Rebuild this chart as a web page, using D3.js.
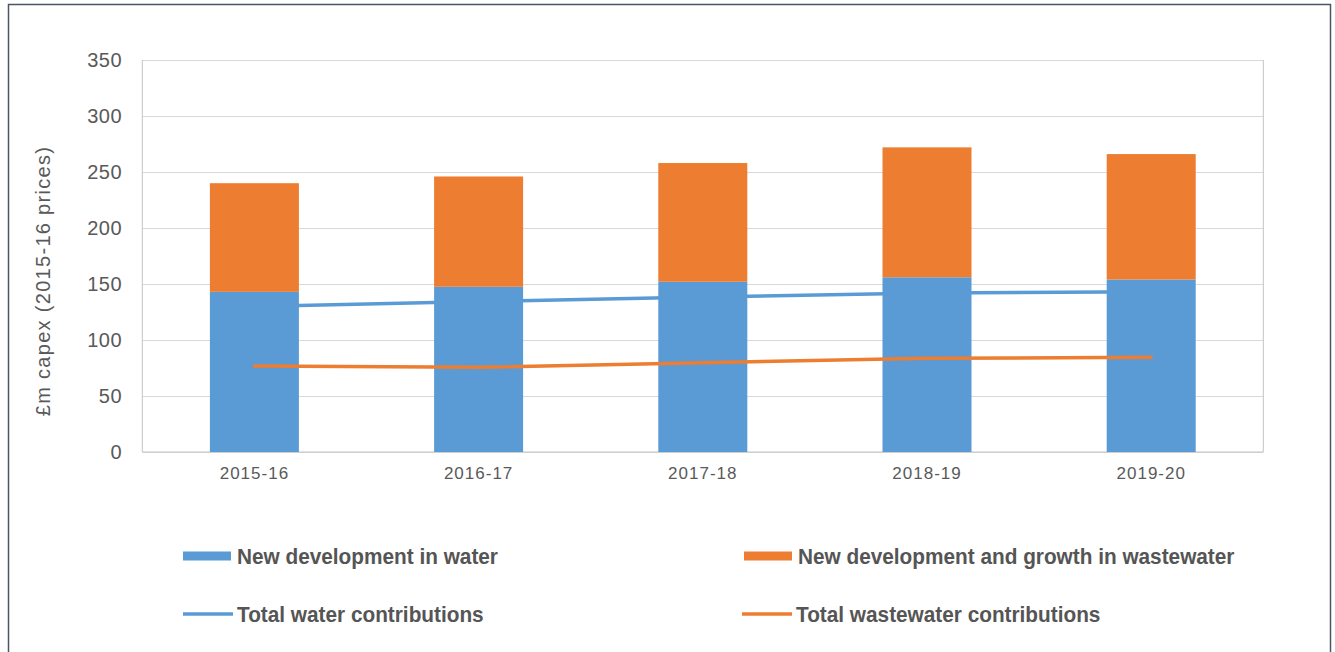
<!DOCTYPE html>
<html>
<head>
<meta charset="utf-8">
<script src="https://cdn.jsdelivr.net/npm/d3@7/dist/d3.min.js"></script>
<style>
  html, body { margin: 0; padding: 0; background: #ffffff; }
  svg { display: block; }
</style>
</head>
<body>
<svg id="chart" width="1335" height="652"></svg>
<script>
// Capex for new development, £m in 2015-16 prices
const years = ["2015-16", "2016-17", "2017-18", "2018-19", "2019-20"];
const waterDev = [143, 147.5, 152, 156, 154];
const wastewaterDev = [97, 98.5, 106, 116, 112];
const totalWater = [130, 134.3, 138.3, 142, 143];
const totalWastewater = [76.8, 75.6, 79.7, 83.6, 84.5];
const yTicks = [0, 50, 100, 150, 200, 250, 300, 350];

const seriesNames = {
  waterDev: "New development in water",
  wastewaterDev: "New development and growth in wastewater",
  totalWater: "Total water contributions",
  totalWastewater: "Total wastewater contributions"
};

const blue = "#5b9bd5";
const orange = "#ed7d31";
const textGrey = "#595959";

const svg = d3.select("#chart");
const plot = { left: 142.3, right: 1263.3, top: 60, bottom: 452 };

// outer frame
svg.append("rect")
  .attr("x", 8.5).attr("y", 4.5)
  .attr("width", 1322).attr("height", 680)
  .attr("fill", "#ffffff")
  .attr("stroke", "#4b5565").attr("stroke-width", 1.5);

const x = d3.scaleBand().domain(years)
  .range([plot.left, plot.right])
  .paddingInner(0.603).paddingOuter(0.3015);

const y = d3.scaleLinear().domain([0, 350]).range([plot.bottom, plot.top]);

// horizontal gridlines
svg.append("g")
  .attr("transform", `translate(${plot.left},0)`)
  .call(d3.axisLeft(y).tickValues(yTicks).tickSize(-(plot.right - plot.left)).tickFormat(""))
  .call(g => g.select(".domain").remove())
  .call(g => g.selectAll("line").attr("stroke", "#d9d9d9").attr("stroke-width", 1));

// plot area sides
svg.append("line").attr("x1", plot.left).attr("x2", plot.left)
  .attr("y1", plot.top).attr("y2", plot.bottom).attr("stroke", "#c4c4c4");
svg.append("line").attr("x1", plot.right).attr("x2", plot.right)
  .attr("y1", plot.top).attr("y2", plot.bottom).attr("stroke", "#c4c4c4");
svg.append("line").attr("x1", plot.left).attr("x2", plot.right)
  .attr("y1", plot.bottom).attr("y2", plot.bottom).attr("stroke", "#c4c4c4");

// y axis labels
svg.append("g")
  .attr("transform", `translate(${plot.left},0)`)
  .call(d3.axisLeft(y).tickValues(yTicks).tickSize(0).tickPadding(20))
  .call(g => g.select(".domain").remove())
  .call(g => g.selectAll("text")
    .attr("fill", textGrey)
    .style("font-family", "'Liberation Sans', Arial, sans-serif")
    .style("font-size", "20px")
    .style("letter-spacing", "0.6px"));

// x axis labels
svg.append("g")
  .attr("transform", `translate(0,${plot.bottom})`)
  .call(d3.axisBottom(x).tickSize(0).tickPadding(15))
  .call(g => g.select(".domain").remove())
  .call(g => g.selectAll("text")
    .attr("fill", textGrey)
    .style("font-family", "'Liberation Sans', Arial, sans-serif")
    .style("font-size", "17px")
    .style("letter-spacing", "1px"));

// y axis title
svg.append("text")
  .attr("transform", "translate(50,281) rotate(-90)")
  .attr("text-anchor", "middle")
  .attr("fill", textGrey)
  .style("font-family", "'Liberation Sans', Arial, sans-serif")
  .style("font-size", "20px")
  .style("letter-spacing", "1.3px")
  .text("£m capex (2015-16 prices)");

// stacked bars
const stackData = years.map((yr, i) => ({ year: yr, waterDev: waterDev[i], wastewaterDev: wastewaterDev[i] }));
const stack = d3.stack().keys(["waterDev", "wastewaterDev"])(stackData);
const barColors = { waterDev: blue, wastewaterDev: orange };

svg.append("g").selectAll("g")
  .data(stack)
  .join("g")
  .attr("fill", d => barColors[d.key])
  .selectAll("rect")
  .data(d => d)
  .join("rect")
  .attr("x", d => x(d.data.year))
  .attr("width", x.bandwidth())
  .attr("y", d => y(d[1]))
  .attr("height", d => y(d[0]) - y(d[1]));

// contribution lines
const line = d3.line()
  .x((d, i) => x(years[i]) + x.bandwidth() / 2)
  .y(d => y(d));

svg.append("path").datum(totalWater)
  .attr("d", line).attr("fill", "none")
  .attr("stroke", blue).attr("stroke-width", 3.5).attr("stroke-linecap", "round");

svg.append("path").datum(totalWastewater)
  .attr("d", line).attr("fill", "none")
  .attr("stroke", orange).attr("stroke-width", 3.5).attr("stroke-linecap", "round");

// legend
const legendItems = [
  { key: "waterDev", type: "bar", color: blue, x: 183, y: 556 },
  { key: "wastewaterDev", type: "bar", color: orange, x: 744, y: 556 },
  { key: "totalWater", type: "line", color: blue, x: 183, y: 614 },
  { key: "totalWastewater", type: "line", color: orange, x: 742, y: 614 }
];

const legend = svg.append("g").selectAll("g")
  .data(legendItems)
  .join("g")
  .attr("transform", d => `translate(${d.x},${d.y})`);

legend.filter(d => d.type === "bar").append("rect")
  .attr("x", 0).attr("y", -4.5).attr("width", 48).attr("height", 9)
  .attr("fill", d => d.color);

legend.filter(d => d.type === "line").append("line")
  .attr("x1", 0).attr("x2", 50).attr("y1", 0).attr("y2", 0)
  .attr("stroke", d => d.color).attr("stroke-width", 3.5);

// condensed bold labels
legend.append("text")
  .attr("transform", "translate(54,8) scale(0.945,1)")
  .attr("fill", "#555555")
  .style("font-family", "'Liberation Sans', Arial, sans-serif")
  .style("font-weight", "bold")
  .style("font-size", "22px")
  .text(d => seriesNames[d.key]);
</script>
</body>
</html>
